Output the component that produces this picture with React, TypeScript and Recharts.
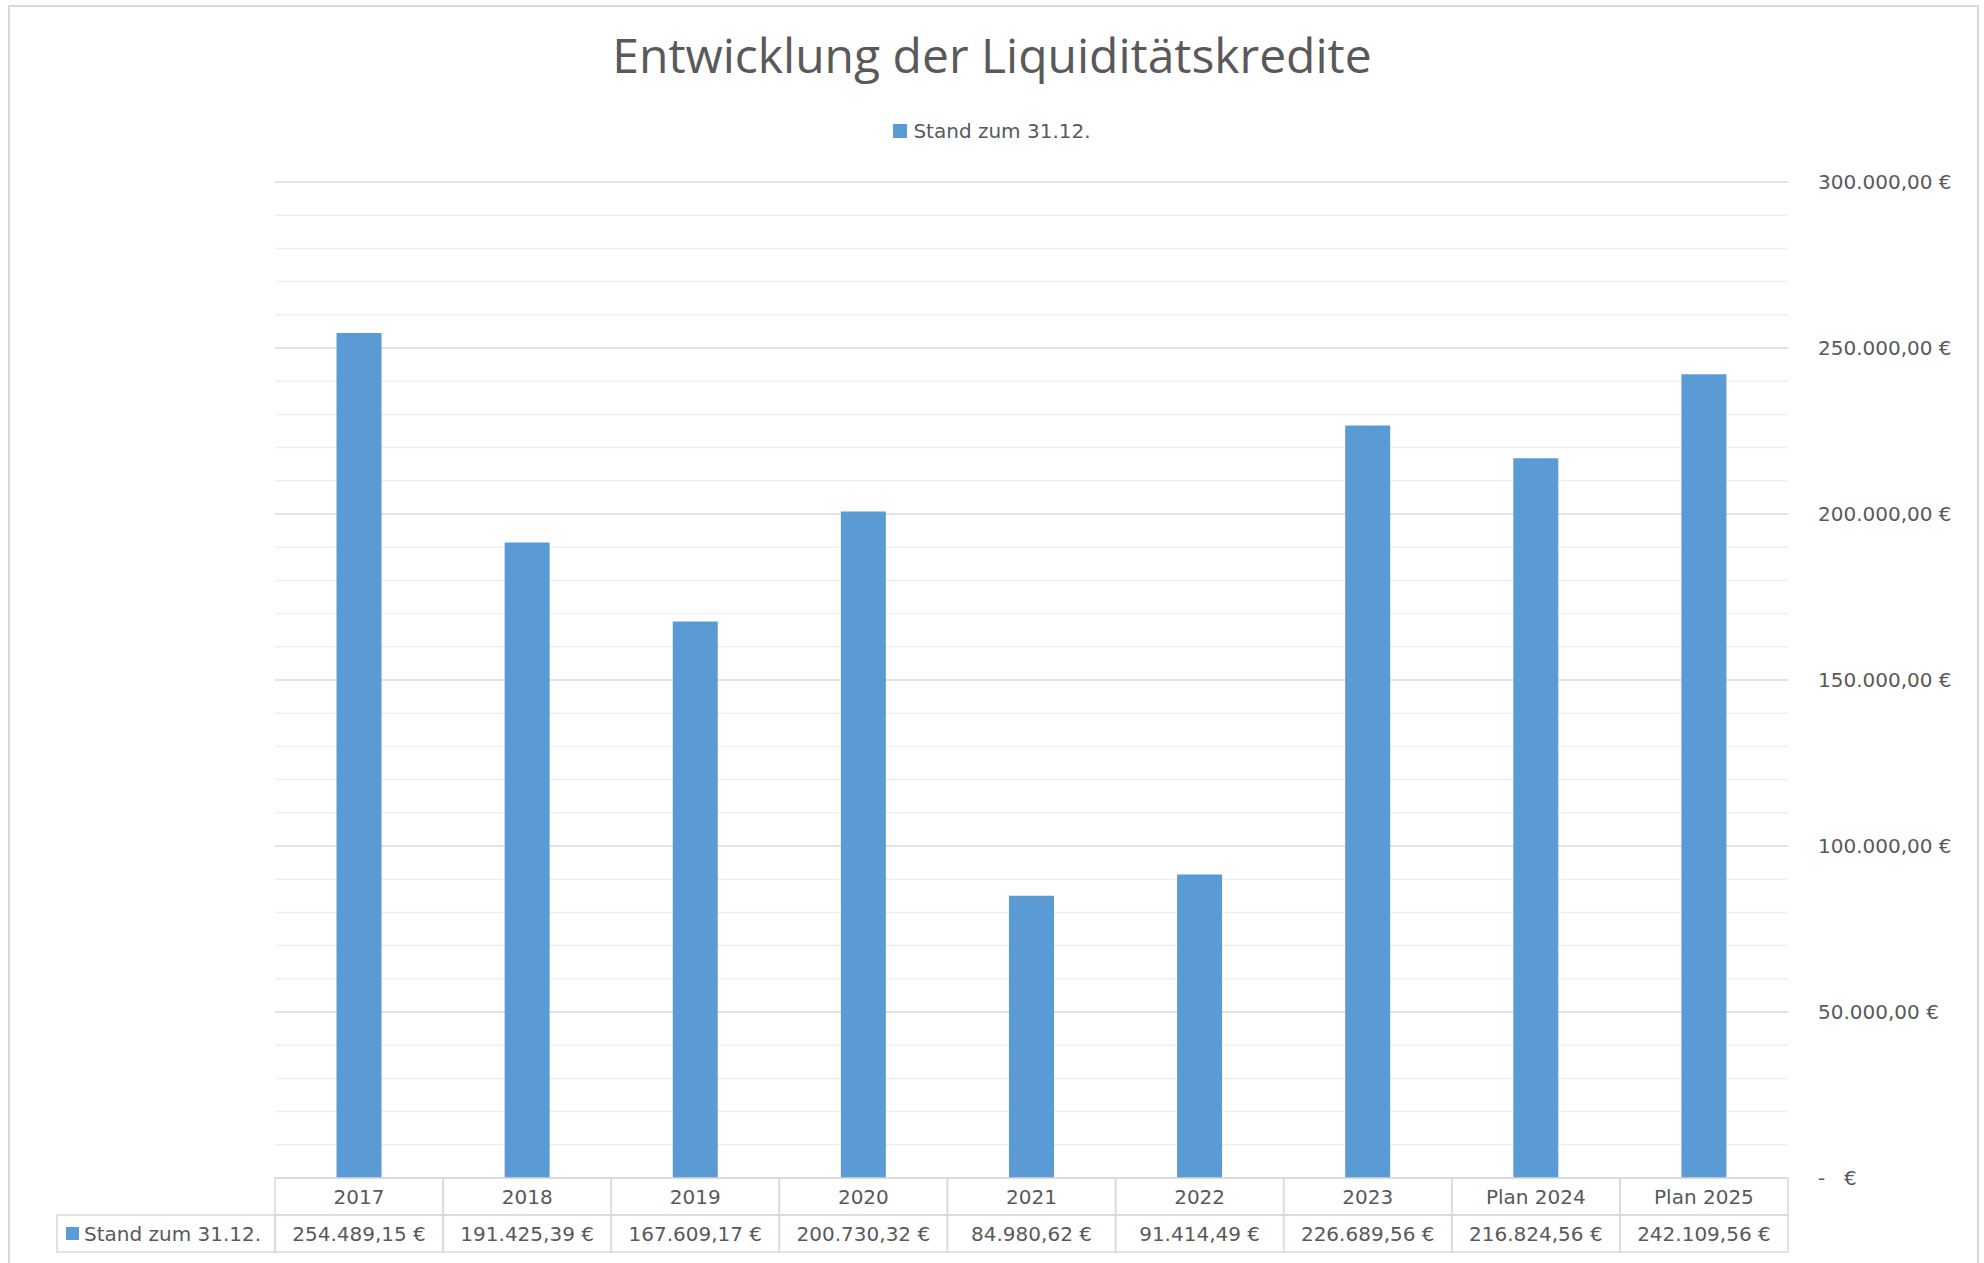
import React from 'react';
import { BarChart, Bar, XAxis, YAxis, CartesianGrid } from 'recharts';

// chart data
const categories = ['2017', '2018', '2019', '2020', '2021', '2022', '2023', 'Plan 2024', 'Plan 2025'];
const standValues = [254489.15, 191425.39, 167609.17, 200730.32, 84980.62, 91414.49, 226689.56, 216824.56, 242109.56];
const seriesName = 'Stand zum 31.12.';
const yTicks = [0, 50000, 100000, 150000, 200000, 250000, 300000];
const minorGrid = [
  10000, 20000, 30000, 40000, 60000, 70000, 80000, 90000, 110000, 120000, 130000, 140000,
  160000, 170000, 180000, 190000, 210000, 220000, 230000, 240000, 260000, 270000, 280000, 290000,
];

const data = categories.map((c, i) => ({ name: c, stand: standValues[i] }));

// layout
const W = 1984;
const H = 1263;
const PLOT_LEFT = 275;
const PLOT_RIGHT = 1788;
const PLOT_TOP = 182;
const PLOT_BOTTOM = 1178;
const ROW_H = 37;
const BAND = (PLOT_RIGHT - PLOT_LEFT) / categories.length;

const BLUE = '#5b9bd5';
const TEXT = '#595959';
const BORDER = '#d9d9d9';
const SMALL_FONT = '"DejaVu Sans", sans-serif';

const fmtEuro = (v: number) => {
  const [int, dec] = v.toFixed(2).split('.');
  const intStr = int.replace(/\B(?=(\d{3})+(?!\d))/g, '.');
  return `${intStr},${dec} €`;
};

const YTick = (props: any) => {
  const { y, payload } = props;
  const x = PLOT_RIGHT + 30;
  if (payload.value === 0) {
    return (
      <text x={x} y={y} dy={7} fill={TEXT} fontSize={20} fontFamily={SMALL_FONT}>
        <tspan x={x}>-</tspan>
        <tspan x={x + 26}>€</tspan>
      </text>
    );
  }
  return (
    <text x={x} y={y} dy={7} fill={TEXT} fontSize={20} fontFamily={SMALL_FONT}>
      {fmtEuro(payload.value)}
    </text>
  );
};

// the data table below the plot, drawn per category
const TableTick = (props: any) => {
  const { x, index } = props;
  const left = x - BAND / 2;
  const top = PLOT_BOTTOM;
  return (
    <g>
      <rect x={left} y={top} width={BAND} height={ROW_H} fill="none" stroke={BORDER} strokeWidth={1.5} />
      <rect x={left} y={top + ROW_H} width={BAND} height={ROW_H} fill="none" stroke={BORDER} strokeWidth={1.5} />
      <text x={x} y={top + ROW_H / 2} dy={7} textAnchor="middle" fill={TEXT} fontSize={20} fontFamily={SMALL_FONT}>
        {categories[index]}
      </text>
      <text x={x} y={top + ROW_H * 1.5} dy={7} textAnchor="middle" fill={TEXT} fontSize={20} fontFamily={SMALL_FONT}>
        {fmtEuro(standValues[index])}
      </text>
      {index === 0 && (
        <g>
          <rect x={57} y={top + ROW_H} width={left - 57} height={ROW_H} fill="none" stroke={BORDER} strokeWidth={1.5} />
          <rect x={66} y={top + ROW_H + 12} width={13} height={13} fill={BLUE} />
          <text x={84} y={top + ROW_H * 1.5} dy={7} fill={TEXT} fontSize={20} fontFamily={SMALL_FONT}>
            {seriesName}
          </text>
        </g>
      )}
    </g>
  );
};

export default function App() {
  return (
    <div style={{ position: 'absolute', left: 0, top: 0, width: W, height: H, overflow: 'hidden', background: 'white' }}>
      <div style={{
        position: 'absolute', left: 8, top: 5, width: W - 8 - 5 - 4, height: H + 20,
        border: `2px solid ${BORDER}`, boxSizing: 'content-box'
      }} />
      <div style={{
        position: 'absolute', left: 0, top: 22, width: W, textAlign: 'center',
        fontFamily: '"Open Sans", sans-serif', fontSize: 48, color: TEXT, lineHeight: '66px'
      }}>
        Entwicklung der Liquiditätskredite
      </div>
      <div style={{
        position: 'absolute', left: 0, top: 119, width: W, display: 'flex',
        justifyContent: 'center', alignItems: 'center', gap: 6
      }}>
        <div style={{ width: 14, height: 14, background: BLUE }} />
        <span style={{ fontFamily: SMALL_FONT, fontSize: 20, color: TEXT }}>{seriesName}</span>
      </div>
      <div style={{ position: 'absolute', left: 0, top: 0 }}>
        <BarChart
          width={W}
          height={H}
          data={data}
          margin={{ top: PLOT_TOP, right: W - PLOT_RIGHT - 170, left: PLOT_LEFT, bottom: H - PLOT_BOTTOM - 80 }}
          barCategoryGap="36.6%"
        >
          <CartesianGrid horizontal vertical={false} horizontalValues={minorGrid} stroke="#efefef" strokeWidth={1.5} />
          <CartesianGrid horizontal vertical={false} horizontalValues={yTicks} stroke={BORDER} strokeWidth={1.5} />
          <XAxis dataKey="name" height={80} axisLine={false} tickLine={false} interval={0} tick={<TableTick />} />
          <YAxis
            orientation="right"
            width={170}
            domain={[0, 300000]}
            ticks={yTicks}
            axisLine={false}
            tickLine={false}
            tick={<YTick />}
          />
          <Bar dataKey="stand" name={seriesName} fill={BLUE} isAnimationActive={false} />
        </BarChart>
      </div>
    </div>
  );
}
